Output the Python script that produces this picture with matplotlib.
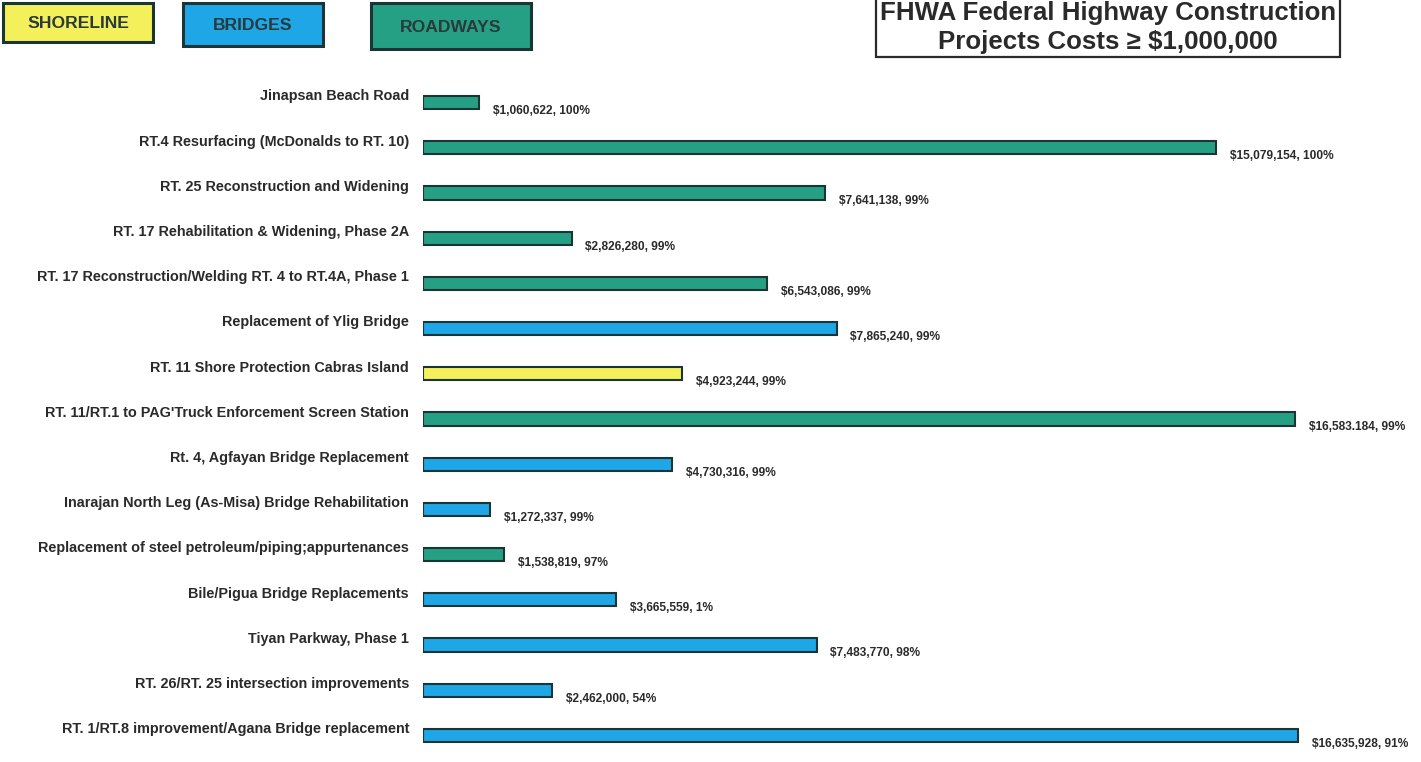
import matplotlib
matplotlib.use("Agg")
import matplotlib.pyplot as plt
from matplotlib.patches import Rectangle

plt.rcParams['font.family'] = ['Liberation Sans', 'DejaVu Sans']

projects = [
    "Jinapsan Beach Road",
    "RT.4 Resurfacing (McDonalds to RT. 10)",
    "RT. 25 Reconstruction and Widening",
    "RT. 17 Rehabilitation & Widening, Phase 2A",
    "RT. 17 Reconstruction/Welding RT. 4 to RT.4A, Phase 1",
    "Replacement of Ylig Bridge",
    "RT. 11 Shore Protection Cabras Island",
    "RT. 11/RT.1 to PAG'Truck Enforcement Screen Station",
    "Rt. 4, Agfayan Bridge Replacement",
    "Inarajan North Leg (As-Misa) Bridge Rehabilitation",
    "Replacement of steel petroleum/piping;appurtenances",
    "Bile/Pigua Bridge Replacements",
    "Tiyan Parkway, Phase 1",
    "RT. 26/RT. 25 intersection improvements",
    "RT. 1/RT.8 improvement/Agana Bridge replacement",
]
costs = [1060622, 15079154, 7641138, 2826280, 6543086, 7865240, 4923244,
         16583184, 4730316, 1272337, 1538819, 3665559, 7483770, 2462000, 16635928]
value_labels = ["$1,060,622, 100%", "$15,079,154, 100%", "$7,641,138, 99%",
                "$2,826,280, 99%", "$6,543,086, 99%", "$7,865,240, 99%",
                "$4,923,244, 99%", "$16,583.184, 99%", "$4,730,316, 99%",
                "$1,272,337, 99%", "$1,538,819, 97%", "$3,665,559, 1%",
                "$7,483,770, 98%", "$2,462,000, 54%", "$16,635,928, 91%"]
types = ["ROADWAYS", "ROADWAYS", "ROADWAYS", "ROADWAYS", "ROADWAYS", "BRIDGES",
         "SHORELINE", "ROADWAYS", "BRIDGES", "BRIDGES", "ROADWAYS", "BRIDGES",
         "BRIDGES", "BRIDGES", "BRIDGES"]
legend_names = ["SHORELINE", "BRIDGES", "ROADWAYS"]
title_lines = ["FHWA Federal Highway Construction", "Projects Costs \u2265 $1,000,000"]

colors = {"SHORELINE": "#f4f05c", "BRIDGES": "#1ea6e6", "ROADWAYS": "#26a084"}
edge = "#1b3535"

W, H = 1421, 762
fig = plt.figure(figsize=(W / 100, H / 100), dpi=100)
fig.patch.set_facecolor("white")

ax = fig.add_axes([423 / W, 1 - 758 / H, 998 / W, 678 / H])
n = len(projects)
ypos = list(range(n))
ax.barh(ypos, costs, height=0.29, color=[colors[t] for t in types],
        edgecolor=edge, linewidth=1.5)
ax.set_xlim(0, 18.98e6)
ax.set_ylim(n - 0.5, -0.5)
ax.axis("off")

for i, (name, c, lab) in enumerate(zip(projects, costs, value_labels)):
    ax.annotate(name, xy=(0, i), xycoords=("axes fraction", "data"),
                xytext=(-10, 4.5), textcoords="offset points",
                ha="right", va="center", fontsize=10.4, fontweight="bold",
                color="#2a2a2a")
    ax.annotate(lab, xy=(c, i), xycoords="data",
                xytext=(10, -6), textcoords="offset points",
                ha="left", va="center", fontsize=8.6, fontweight="bold",
                color="#2a2a2a")

# legend boxes
boxes = [(3, 3, 150, 39), (183, 3, 140, 43), (371, 3, 160, 46)]
for name, (x, y, w, h) in zip(legend_names, boxes):
    r = Rectangle((x / W, 1 - (y + h) / H), w / W, h / H, transform=fig.transFigure,
                  facecolor=colors[name], edgecolor=edge, linewidth=2.2)
    fig.add_artist(r)
    fig.text((x + w / 2) / W, 1 - (y + h / 2 + 1) / H, name, ha="center", va="center",
             fontsize=12.6, fontweight="bold", color="#2a3a3a")

# title box
r = Rectangle((876 / W, 1 - 57 / H), 464 / W, 60 / H, transform=fig.transFigure,
              facecolor="white", edgecolor="#2a2a2a", linewidth=1.6)
fig.add_artist(r)
fig.text(1108 / W, 1 - 13 / H, title_lines[0], ha="center", va="center",
         fontsize=18.6, fontweight="bold", color="#2a2a2a")
fig.text(1108 / W, 1 - 42 / H, title_lines[1], ha="center", va="center",
         fontsize=18.6, fontweight="bold", color="#2a2a2a")

fig.savefig("out.png", dpi=100, facecolor="white")
